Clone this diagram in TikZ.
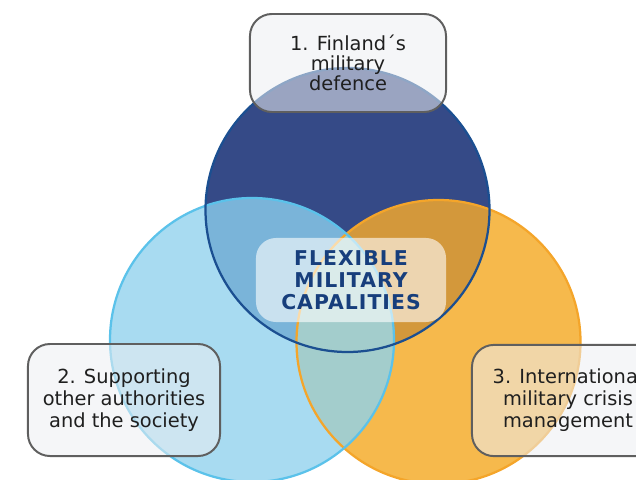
\documentclass[tikz,border=0pt]{standalone}
\usepackage{fontspec}
\setmainfont{DejaVu Sans}

\definecolor{darkblue}{HTML}{354A87}
\definecolor{darkline}{HTML}{1B4F91}
\definecolor{lightblue}{HTML}{A8DBF1}
\definecolor{lightline}{HTML}{5BC2EA}
\definecolor{orangefill}{HTML}{F6B94C}
\definecolor{orangeline}{HTML}{F4A52A}
\definecolor{mixblue}{HTML}{7AB4D9}
\definecolor{mixorange}{HTML}{D3983B}
\definecolor{mixteal}{HTML}{A3CDCC}
\definecolor{boxfill}{HTML}{EDEFF2}
\definecolor{boxline}{HTML}{5F5F5F}
\definecolor{navytext}{HTML}{173E7C}

\begin{document}
\begin{tikzpicture}[x=0.025cm, y=-0.025cm,
    labelbox/.style={draw=boxline, line width=1.4pt, rounded corners=0.55cm, fill=boxfill, fill opacity=0.55, text opacity=1,
                     align=center, text=black!88, inner sep=0pt, font=\fontsize{13.8}{15.6}\selectfont},
    ring/.style={line width=1.6pt}]
        \useasboundingbox (0,0) rectangle (636,479);
        \clip (0,0) rectangle (636,479);
        \coordinate (cdef) at (347.5,210);   % defence
        \coordinate (csup) at (252,340);     % support
        \coordinate (cint) at (438.5,342);   % international
        \fill[darkblue] (cdef) circle (142);
        \fill[lightblue] (csup) circle (142);
        \fill[orangefill] (cint) circle (142);
        \begin{scope}
            \clip (cdef) circle (142);
            \fill[mixblue] (csup) circle (142);
            \fill[mixorange] (cint) circle (142);
        \end{scope}
        \begin{scope}
            \clip (csup) circle (142);
            \fill[mixteal] (cint) circle (142);
        \end{scope}
        \draw[ring, orangeline] (cint) circle (142);
        \draw[ring, lightline] (csup) circle (142);
        \draw[ring, darkline] (cdef) circle (142);

        \node[labelbox, minimum width=4.9cm, minimum height=2.45cm, font=\fontsize{13.8}{14.2}\selectfont] (defence) at (348,63) {1. Finland´s\\military\\defence};
        \node[labelbox, minimum width=4.8cm, minimum height=2.8cm] (support) at (124,400) {2. Supporting\\other authorities\\and the society};
        \node[labelbox, minimum width=4.8cm, minimum height=2.78cm] (intl) at (568,400.5) {3. International\\military crisis\\management};
        \node[fill=white, fill opacity=0.6, text opacity=1, rounded corners=0.5cm, minimum width=4.75cm, minimum height=2.1cm, inner sep=0pt,
              text=navytext, align=center, font=\bfseries\fontsize{14.5}{15.6}\selectfont\addfontfeature{LetterSpace=5}] (core) at (351,280) {FLEXIBLE\\MILITARY\\CAPALITIES};
    \end{tikzpicture}
\end{document}
